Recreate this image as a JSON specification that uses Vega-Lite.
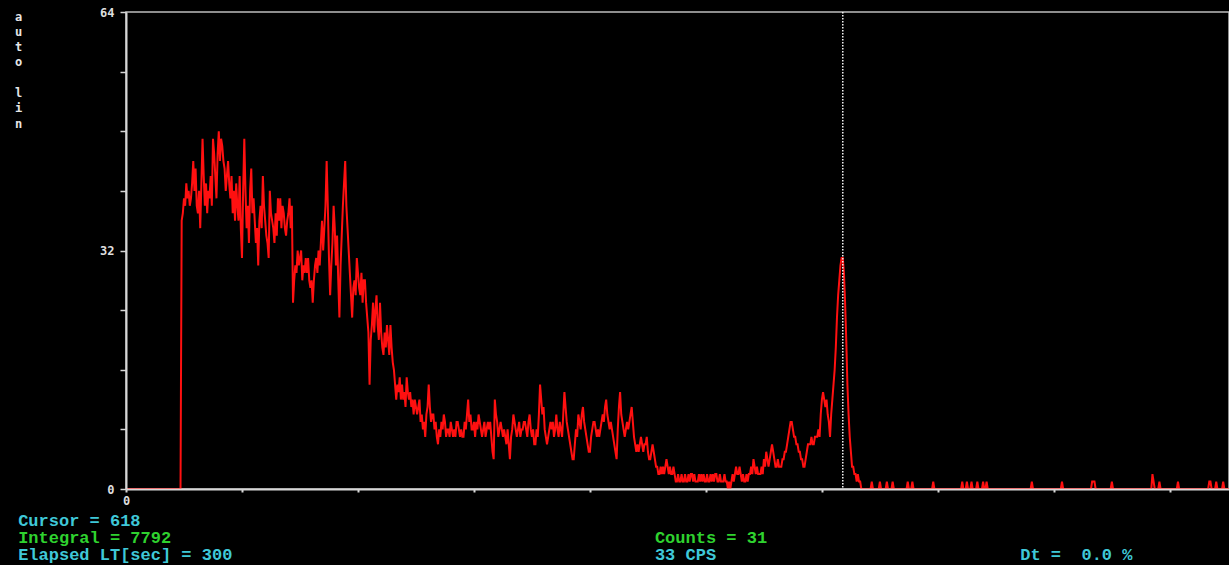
{
  "$schema": "https://vega.github.io/schema/vega-lite/v6.json",
  "width": 1103,
  "height": 477,
  "autosize": {"type": "none"},
  "padding": {"left": 126, "top": 12, "right": 0, "bottom": 76},
  "background": "#000000",
  "config": {
    "view": {"stroke": "#bdbdbd", "strokeWidth": 1.5, "fill": "#000000"},
    "text": {"font": "Liberation Mono", "fontWeight": "bold", "fontSize": 17, "align": "left", "baseline": "alphabetic"}
  },
  "datasets": {
    "spectrum": [
      {"ch":0,"counts":0},{"ch":47,"counts":0},
      {"ch":48,"counts":36},{"ch":49,"counts":37},{"ch":50,"counts":39},{"ch":51,"counts":38},{"ch":52,"counts":41},{"ch":53,"counts":39},{"ch":54,"counts":40},{"ch":55,"counts":38},{"ch":56,"counts":39},{"ch":57,"counts":41},{"ch":58,"counts":44},{"ch":59,"counts":40},{"ch":60,"counts":43},{"ch":61,"counts":38},{"ch":62,"counts":37},{"ch":63,"counts":40},{"ch":64,"counts":35},{"ch":65,"counts":41},{"ch":66,"counts":47},{"ch":67,"counts":42},{"ch":68,"counts":38},{"ch":69,"counts":41},{"ch":70,"counts":37},{"ch":71,"counts":40},{"ch":72,"counts":39},{"ch":73,"counts":42},{"ch":74,"counts":38},{"ch":75,"counts":47},{"ch":76,"counts":45},{"ch":77,"counts":42},{"ch":78,"counts":39},{"ch":79,"counts":45},
      {"ch":80,"counts":48},{"ch":81,"counts":44},{"ch":82,"counts":47},{"ch":83,"counts":46},{"ch":84,"counts":44},{"ch":85,"counts":43},{"ch":86,"counts":40},{"ch":87,"counts":42},{"ch":88,"counts":44},{"ch":89,"counts":41},{"ch":90,"counts":39},{"ch":91,"counts":42},{"ch":92,"counts":37},{"ch":93,"counts":40},{"ch":94,"counts":36},{"ch":95,"counts":41},{"ch":96,"counts":38},{"ch":97,"counts":36},{"ch":98,"counts":42},{"ch":99,"counts":35},{"ch":100,"counts":31},{"ch":101,"counts":40},{"ch":102,"counts":47},{"ch":103,"counts":40},{"ch":104,"counts":35},{"ch":105,"counts":38},{"ch":106,"counts":33},{"ch":107,"counts":40},{"ch":108,"counts":43},{"ch":109,"counts":37},
      {"ch":110,"counts":39},{"ch":111,"counts":36},{"ch":112,"counts":33},{"ch":113,"counts":35},{"ch":114,"counts":30},{"ch":115,"counts":36},{"ch":116,"counts":38},{"ch":117,"counts":35},{"ch":118,"counts":42},{"ch":119,"counts":38},{"ch":120,"counts":36},{"ch":121,"counts":34},{"ch":122,"counts":33},{"ch":123,"counts":31},{"ch":124,"counts":40},{"ch":125,"counts":37},{"ch":126,"counts":36},{"ch":127,"counts":35},{"ch":128,"counts":33},{"ch":129,"counts":37},{"ch":130,"counts":34},{"ch":131,"counts":39},{"ch":132,"counts":36},{"ch":133,"counts":39},{"ch":134,"counts":35},{"ch":135,"counts":38},{"ch":136,"counts":37},{"ch":137,"counts":35},{"ch":138,"counts":34},{"ch":139,"counts":36},
      {"ch":140,"counts":37},{"ch":141,"counts":39},{"ch":142,"counts":35},{"ch":143,"counts":38},{"ch":144,"counts":25},{"ch":145,"counts":28},{"ch":146,"counts":30},{"ch":147,"counts":29},{"ch":148,"counts":32},{"ch":149,"counts":30},{"ch":150,"counts":31},{"ch":151,"counts":32},{"ch":152,"counts":28},{"ch":153,"counts":30},{"ch":154,"counts":29},{"ch":155,"counts":31},{"ch":156,"counts":29},{"ch":157,"counts":31},{"ch":158,"counts":28},{"ch":159,"counts":27},{"ch":160,"counts":28},{"ch":161,"counts":25},{"ch":162,"counts":28},{"ch":163,"counts":30},{"ch":164,"counts":31},{"ch":165,"counts":29},{"ch":166,"counts":32},{"ch":167,"counts":30},{"ch":168,"counts":33},{"ch":169,"counts":36},
      {"ch":170,"counts":32},{"ch":171,"counts":35},{"ch":172,"counts":38},{"ch":173,"counts":44},{"ch":174,"counts":38},{"ch":175,"counts":31},{"ch":176,"counts":26},{"ch":177,"counts":30},{"ch":178,"counts":33},{"ch":179,"counts":38},{"ch":180,"counts":35},{"ch":181,"counts":30},{"ch":182,"counts":34},{"ch":183,"counts":28},{"ch":184,"counts":23},{"ch":185,"counts":30},{"ch":186,"counts":34},{"ch":187,"counts":38},{"ch":188,"counts":41},{"ch":189,"counts":44},{"ch":190,"counts":38},{"ch":191,"counts":35},{"ch":192,"counts":32},{"ch":193,"counts":29},{"ch":194,"counts":26},{"ch":195,"counts":23},{"ch":196,"counts":27},{"ch":197,"counts":28},{"ch":198,"counts":26},{"ch":199,"counts":31},
      {"ch":200,"counts":29},{"ch":201,"counts":27},{"ch":202,"counts":26},{"ch":203,"counts":29},{"ch":204,"counts":25},{"ch":205,"counts":28},{"ch":206,"counts":28},{"ch":207,"counts":25},{"ch":208,"counts":23},{"ch":209,"counts":21},{"ch":210,"counts":14},{"ch":211,"counts":20},{"ch":212,"counts":22},{"ch":213,"counts":25},{"ch":214,"counts":21},{"ch":215,"counts":24},{"ch":216,"counts":26},{"ch":217,"counts":22},{"ch":218,"counts":20},{"ch":219,"counts":25},{"ch":220,"counts":21},{"ch":221,"counts":19},{"ch":222,"counts":18},{"ch":223,"counts":21},{"ch":224,"counts":19},{"ch":225,"counts":22},{"ch":226,"counts":20},{"ch":227,"counts":18},{"ch":228,"counts":22},{"ch":229,"counts":19},
      {"ch":230,"counts":17},{"ch":231,"counts":16},{"ch":232,"counts":14},{"ch":233,"counts":12},{"ch":234,"counts":14},{"ch":235,"counts":13},{"ch":236,"counts":15},{"ch":237,"counts":12},{"ch":238,"counts":14},{"ch":239,"counts":12},{"ch":240,"counts":13},{"ch":241,"counts":11},{"ch":242,"counts":15},{"ch":243,"counts":13},{"ch":244,"counts":12},{"ch":245,"counts":13},{"ch":246,"counts":11},{"ch":247,"counts":12},{"ch":248,"counts":10},{"ch":249,"counts":12},{"ch":250,"counts":11},{"ch":251,"counts":10},{"ch":252,"counts":11},{"ch":253,"counts":12},{"ch":254,"counts":9},{"ch":255,"counts":10},{"ch":256,"counts":8},{"ch":257,"counts":9},{"ch":258,"counts":7},{"ch":259,"counts":10},
      {"ch":260,"counts":11},{"ch":261,"counts":14},{"ch":262,"counts":11},{"ch":263,"counts":9},{"ch":264,"counts":10},{"ch":265,"counts":10},{"ch":266,"counts":8},{"ch":267,"counts":9},{"ch":268,"counts":7},{"ch":269,"counts":6},{"ch":270,"counts":8},{"ch":271,"counts":7},{"ch":272,"counts":9},{"ch":273,"counts":8},{"ch":274,"counts":10},{"ch":275,"counts":9},{"ch":276,"counts":7},{"ch":277,"counts":8},{"ch":278,"counts":8},{"ch":279,"counts":7},{"ch":280,"counts":9},{"ch":281,"counts":8},{"ch":282,"counts":7},{"ch":283,"counts":8},{"ch":284,"counts":7},{"ch":285,"counts":9},{"ch":286,"counts":9},{"ch":287,"counts":8},{"ch":288,"counts":7},{"ch":289,"counts":8},
      {"ch":290,"counts":7},{"ch":291,"counts":7},{"ch":292,"counts":9},{"ch":293,"counts":8},{"ch":294,"counts":10},{"ch":295,"counts":12},{"ch":296,"counts":9},{"ch":297,"counts":10},{"ch":298,"counts":8},{"ch":299,"counts":8},{"ch":300,"counts":9},{"ch":301,"counts":7},{"ch":302,"counts":9},{"ch":303,"counts":8},{"ch":304,"counts":10},{"ch":305,"counts":9},{"ch":306,"counts":8},{"ch":307,"counts":7},{"ch":308,"counts":8},{"ch":309,"counts":9},{"ch":310,"counts":7},{"ch":311,"counts":8},{"ch":312,"counts":9},{"ch":313,"counts":8},{"ch":314,"counts":9},{"ch":315,"counts":7},{"ch":316,"counts":5},{"ch":317,"counts":4},{"ch":318,"counts":12},{"ch":319,"counts":10},
      {"ch":320,"counts":9},{"ch":321,"counts":7},{"ch":322,"counts":8},{"ch":323,"counts":9},{"ch":324,"counts":8},{"ch":325,"counts":7},{"ch":326,"counts":8},{"ch":327,"counts":7},{"ch":328,"counts":6},{"ch":329,"counts":8},{"ch":330,"counts":6},{"ch":331,"counts":4},{"ch":332,"counts":7},{"ch":333,"counts":8},{"ch":334,"counts":10},{"ch":335,"counts":9},{"ch":336,"counts":8},{"ch":337,"counts":7},{"ch":338,"counts":8},{"ch":339,"counts":9},{"ch":340,"counts":7},{"ch":341,"counts":8},{"ch":342,"counts":8},{"ch":343,"counts":9},{"ch":344,"counts":9},{"ch":345,"counts":8},{"ch":346,"counts":7},{"ch":347,"counts":9},{"ch":348,"counts":10},{"ch":349,"counts":8},
      {"ch":350,"counts":7},{"ch":351,"counts":8},{"ch":352,"counts":6},{"ch":353,"counts":6},{"ch":354,"counts":8},{"ch":355,"counts":7},{"ch":356,"counts":10},{"ch":357,"counts":14},{"ch":358,"counts":12},{"ch":359,"counts":10},{"ch":360,"counts":11},{"ch":361,"counts":8},{"ch":362,"counts":7},{"ch":363,"counts":6},{"ch":364,"counts":7},{"ch":365,"counts":8},{"ch":366,"counts":9},{"ch":367,"counts":8},{"ch":368,"counts":9},{"ch":369,"counts":7},{"ch":370,"counts":8},{"ch":371,"counts":10},{"ch":372,"counts":8},{"ch":373,"counts":7},{"ch":374,"counts":9},{"ch":375,"counts":8},{"ch":376,"counts":7},{"ch":377,"counts":10},{"ch":378,"counts":13},{"ch":379,"counts":11},
      {"ch":380,"counts":9},{"ch":381,"counts":8},{"ch":382,"counts":7},{"ch":383,"counts":6},{"ch":384,"counts":5},{"ch":385,"counts":4},{"ch":386,"counts":4},{"ch":387,"counts":6},{"ch":388,"counts":8},{"ch":389,"counts":7},{"ch":390,"counts":10},{"ch":391,"counts":9},{"ch":392,"counts":8},{"ch":393,"counts":10},{"ch":394,"counts":11},{"ch":395,"counts":9},{"ch":396,"counts":8},{"ch":397,"counts":7},{"ch":398,"counts":6},{"ch":399,"counts":5},{"ch":400,"counts":5},{"ch":401,"counts":7},{"ch":402,"counts":8},{"ch":403,"counts":9},{"ch":404,"counts":9},{"ch":405,"counts":8},{"ch":406,"counts":7},{"ch":407,"counts":8},{"ch":408,"counts":7},{"ch":409,"counts":8},
      {"ch":410,"counts":9},{"ch":411,"counts":10},{"ch":412,"counts":9},{"ch":413,"counts":11},{"ch":414,"counts":12},{"ch":415,"counts":10},{"ch":416,"counts":9},{"ch":417,"counts":8},{"ch":418,"counts":9},{"ch":419,"counts":8},{"ch":420,"counts":7},{"ch":421,"counts":6},{"ch":422,"counts":5},{"ch":423,"counts":4},{"ch":424,"counts":8},{"ch":425,"counts":11},{"ch":426,"counts":13},{"ch":427,"counts":10},{"ch":428,"counts":9},{"ch":429,"counts":8},{"ch":430,"counts":7},{"ch":431,"counts":8},{"ch":432,"counts":9},{"ch":433,"counts":8},{"ch":434,"counts":9},{"ch":435,"counts":10},{"ch":436,"counts":11},{"ch":437,"counts":9},{"ch":438,"counts":7},{"ch":439,"counts":6},
      {"ch":440,"counts":5},{"ch":441,"counts":6},{"ch":442,"counts":5},{"ch":443,"counts":6},{"ch":444,"counts":7},{"ch":445,"counts":6},{"ch":446,"counts":5},{"ch":447,"counts":6},{"ch":448,"counts":6},{"ch":449,"counts":7},{"ch":450,"counts":5},{"ch":451,"counts":4},{"ch":452,"counts":4},{"ch":453,"counts":5},{"ch":454,"counts":6},{"ch":455,"counts":5},{"ch":456,"counts":4},{"ch":457,"counts":3},{"ch":458,"counts":3},{"ch":459,"counts":2},{"ch":460,"counts":2},{"ch":461,"counts":3},{"ch":462,"counts":2},{"ch":463,"counts":3},{"ch":464,"counts":2},{"ch":465,"counts":3},{"ch":466,"counts":4},{"ch":467,"counts":3},{"ch":468,"counts":2},{"ch":469,"counts":3},
      {"ch":470,"counts":2},{"ch":471,"counts":2},{"ch":472,"counts":3},{"ch":473,"counts":2},{"ch":474,"counts":1},{"ch":475,"counts":1},{"ch":476,"counts":2},{"ch":477,"counts":1},{"ch":478,"counts":1},{"ch":479,"counts":2},{"ch":480,"counts":1},{"ch":481,"counts":1},{"ch":482,"counts":2},{"ch":483,"counts":1},{"ch":484,"counts":1},{"ch":485,"counts":2},{"ch":486,"counts":1},{"ch":487,"counts":2},{"ch":488,"counts":2},{"ch":489,"counts":1},{"ch":490,"counts":2},{"ch":491,"counts":1},{"ch":492,"counts":1},{"ch":493,"counts":1},{"ch":494,"counts":2},{"ch":495,"counts":1},{"ch":496,"counts":2},{"ch":497,"counts":1},{"ch":498,"counts":2},{"ch":499,"counts":1},
      {"ch":500,"counts":1},{"ch":501,"counts":2},{"ch":502,"counts":1},{"ch":503,"counts":1},{"ch":504,"counts":2},{"ch":505,"counts":1},{"ch":506,"counts":2},{"ch":507,"counts":1},{"ch":508,"counts":2},{"ch":509,"counts":2},{"ch":510,"counts":1},{"ch":511,"counts":1},{"ch":512,"counts":2},{"ch":513,"counts":1},{"ch":514,"counts":1},{"ch":515,"counts":1},{"ch":516,"counts":2},{"ch":517,"counts":1},{"ch":518,"counts":1},{"ch":519,"counts":0},{"ch":520,"counts":1},{"ch":521,"counts":0},{"ch":522,"counts":1},{"ch":523,"counts":2},{"ch":524,"counts":1},{"ch":525,"counts":2},{"ch":526,"counts":3},{"ch":527,"counts":2},{"ch":528,"counts":2},{"ch":529,"counts":3},
      {"ch":530,"counts":2},{"ch":531,"counts":1},{"ch":532,"counts":2},{"ch":533,"counts":1},{"ch":534,"counts":1},{"ch":535,"counts":2},{"ch":536,"counts":1},{"ch":537,"counts":2},{"ch":538,"counts":2},{"ch":539,"counts":3},{"ch":540,"counts":2},{"ch":541,"counts":4},{"ch":542,"counts":3},{"ch":543,"counts":2},{"ch":544,"counts":3},{"ch":545,"counts":2},{"ch":546,"counts":2},{"ch":547,"counts":2},{"ch":548,"counts":3},{"ch":549,"counts":2},{"ch":550,"counts":4},{"ch":551,"counts":3},{"ch":552,"counts":5},{"ch":553,"counts":4},{"ch":554,"counts":3},{"ch":555,"counts":4},{"ch":556,"counts":5},{"ch":557,"counts":6},{"ch":558,"counts":5},{"ch":559,"counts":4},
      {"ch":560,"counts":3},{"ch":561,"counts":3},{"ch":562,"counts":4},{"ch":563,"counts":3},{"ch":564,"counts":3},{"ch":565,"counts":3},{"ch":566,"counts":4},{"ch":567,"counts":4},{"ch":568,"counts":5},{"ch":569,"counts":5},{"ch":570,"counts":6},{"ch":571,"counts":7},{"ch":572,"counts":8},{"ch":573,"counts":9},{"ch":574,"counts":9},{"ch":575,"counts":8},{"ch":576,"counts":7},{"ch":577,"counts":7},{"ch":578,"counts":6},{"ch":579,"counts":6},{"ch":580,"counts":5},{"ch":581,"counts":5},{"ch":582,"counts":4},{"ch":583,"counts":4},{"ch":584,"counts":3},{"ch":585,"counts":3},{"ch":586,"counts":4},{"ch":587,"counts":5},{"ch":588,"counts":6},{"ch":589,"counts":6},
      {"ch":590,"counts":6},{"ch":591,"counts":7},{"ch":592,"counts":6},{"ch":593,"counts":6},{"ch":594,"counts":7},{"ch":595,"counts":7},{"ch":596,"counts":7},{"ch":597,"counts":8},{"ch":598,"counts":7},{"ch":599,"counts":10},{"ch":600,"counts":12},{"ch":601,"counts":13},{"ch":602,"counts":12},{"ch":603,"counts":11},{"ch":604,"counts":12},{"ch":605,"counts":10},{"ch":606,"counts":9},{"ch":607,"counts":7},{"ch":608,"counts":10},{"ch":609,"counts":12},{"ch":610,"counts":14},{"ch":611,"counts":16},{"ch":612,"counts":19},{"ch":613,"counts":23},{"ch":614,"counts":26},{"ch":615,"counts":28},{"ch":616,"counts":30},{"ch":617,"counts":31},{"ch":618,"counts":31},{"ch":619,"counts":29},
      {"ch":620,"counts":25},{"ch":621,"counts":20},{"ch":622,"counts":14},{"ch":623,"counts":10},{"ch":624,"counts":7},{"ch":625,"counts":5},{"ch":626,"counts":3},{"ch":627,"counts":3},{"ch":628,"counts":2},{"ch":629,"counts":2},{"ch":630,"counts":1},{"ch":631,"counts":2},{"ch":632,"counts":1},{"ch":633,"counts":1},{"ch":634,"counts":0},
      {"ch":642,"counts":0},{"ch":643,"counts":1},{"ch":644,"counts":0},{"ch":649,"counts":0},{"ch":650,"counts":1},{"ch":651,"counts":0},{"ch":655,"counts":0},{"ch":656,"counts":1},{"ch":657,"counts":0},{"ch":660,"counts":0},{"ch":661,"counts":1},{"ch":662,"counts":0},{"ch":673,"counts":0},{"ch":674,"counts":1},{"ch":675,"counts":0},{"ch":677,"counts":0},{"ch":678,"counts":1},{"ch":679,"counts":0},{"ch":695,"counts":0},{"ch":696,"counts":1},{"ch":697,"counts":0},
      {"ch":720,"counts":0},{"ch":721,"counts":1},{"ch":722,"counts":0},{"ch":724,"counts":0},{"ch":725,"counts":1},{"ch":726,"counts":0},{"ch":728,"counts":0},{"ch":729,"counts":1},{"ch":730,"counts":0},{"ch":733,"counts":0},{"ch":734,"counts":1},{"ch":735,"counts":0},{"ch":738,"counts":0},{"ch":739,"counts":1},{"ch":740,"counts":0},{"ch":741,"counts":0},{"ch":742,"counts":1},{"ch":743,"counts":0},
      {"ch":780,"counts":0},{"ch":781,"counts":1},{"ch":782,"counts":0},{"ch":806,"counts":0},{"ch":807,"counts":1},{"ch":808,"counts":0},{"ch":832,"counts":0},{"ch":833,"counts":1},{"ch":834,"counts":1},{"ch":835,"counts":1},{"ch":836,"counts":0},{"ch":849,"counts":0},{"ch":850,"counts":1},{"ch":851,"counts":0},{"ch":884,"counts":0},{"ch":885,"counts":2},{"ch":886,"counts":1},{"ch":887,"counts":0},{"ch":890,"counts":0},{"ch":891,"counts":1},{"ch":892,"counts":0},
      {"ch":906,"counts":0},{"ch":907,"counts":1},{"ch":908,"counts":0},{"ch":933,"counts":0},{"ch":934,"counts":1},{"ch":935,"counts":1},{"ch":936,"counts":0},{"ch":939,"counts":0},{"ch":940,"counts":1},{"ch":941,"counts":0},{"ch":945,"counts":0},{"ch":946,"counts":1},{"ch":947,"counts":0},{"ch":951,"counts":0}
    ]
  },
  "layer": [
    {
      "data": {"name": "spectrum"},
      "mark": {"type": "line", "color": "#ff1010", "strokeWidth": 2, "interpolate": "linear"},
      "encoding": {
        "x": {
          "field": "ch", "type": "quantitative",
          "scale": {"domain": [0, 951], "nice": false, "zero": false},
          "axis": {
            "title": null, "grid": false, "zindex": 1,
            "values": [0, 100, 200, 300, 400, 500, 600, 700, 800, 900],
            "labelExpr": "datum.value === 0 ? '0' : ''",
            "labelFlush": false, "labelOverlap": false,
            "domainColor": "#d6d6d6", "domainWidth": 2,
            "tickColor": "#d6d6d6", "tickWidth": 2, "tickSize": 3,
            "labelColor": "#dedede", "labelFont": "DejaVu Sans Mono", "labelFontWeight": "bold", "labelFontSize": 12, "labelPadding": 3
          }
        },
        "y": {
          "field": "counts", "type": "quantitative",
          "scale": {"domain": [0, 64], "nice": false},
          "axis": {
            "grid": false, "zindex": 1,
            "values": [0, 8, 16, 24, 32, 40, 48, 56, 64],
            "labelExpr": "datum.value % 32 === 0 ? datum.label : ''",
            "labelFlush": false, "labelOverlap": false,
            "domainColor": "#d6d6d6", "domainWidth": 2,
            "tickColor": "#d6d6d6", "tickWidth": 1.5, "tickSize": 6,
            "labelColor": "#dedede", "labelFont": "DejaVu Sans Mono", "labelFontWeight": "bold", "labelFontSize": 12, "labelPadding": 6,
            "title": ["a", "u", "t", "o", "\u2800", "l", "i", "n"],
            "titleAngle": 0, "titleX": -108, "titleY": -1,
            "titleAlign": "center", "titleBaseline": "top",
            "titleFont": "DejaVu Sans Mono", "titleFontWeight": "bold", "titleFontSize": 12,
            "titleLineHeight": 15.3, "titleColor": "#e6e6e6"
          }
        }
      }
    },
    {
      "data": {"values": [{"cursor": 618}]},
      "mark": {"type": "rule", "color": "#f4f4f4", "strokeDash": [1.5, 1.5], "strokeWidth": 1.5},
      "encoding": {"x": {"field": "cursor", "type": "quantitative"}}
    },
    {
      "data": {"values": [{"label": "Cursor = 618"}]},
      "mark": {"type": "text", "color": "#3fc8d8"},
      "encoding": {"text": {"field": "label"}, "x": {"datum": -93}, "y": {"datum": -4.96}}
    },
    {
      "data": {"values": [{"label": "Integral = 7792"}]},
      "mark": {"type": "text", "color": "#2fd22f"},
      "encoding": {"text": {"field": "label"}, "x": {"datum": -93}, "y": {"datum": -7.25}}
    },
    {
      "data": {"values": [{"label": "Elapsed LT[sec] = 300"}]},
      "mark": {"type": "text", "color": "#3fc8d8"},
      "encoding": {"text": {"field": "label"}, "x": {"datum": -93}, "y": {"datum": -9.53}}
    },
    {
      "data": {"values": [{"label": "Counts = 31"}]},
      "mark": {"type": "text", "color": "#2fd22f"},
      "encoding": {"text": {"field": "label"}, "x": {"datum": 456}, "y": {"datum": -7.25}}
    },
    {
      "data": {"values": [{"label": "33 CPS"}]},
      "mark": {"type": "text", "color": "#3fc8d8"},
      "encoding": {"text": {"field": "label"}, "x": {"datum": 456}, "y": {"datum": -9.53}}
    },
    {
      "data": {"values": [{"label": "Dt =\u00a0 0.0 %"}]},
      "mark": {"type": "text", "color": "#3fc8d8"},
      "encoding": {"text": {"field": "label"}, "x": {"datum": 771}, "y": {"datum": -9.53}}
    }
  ]
}
